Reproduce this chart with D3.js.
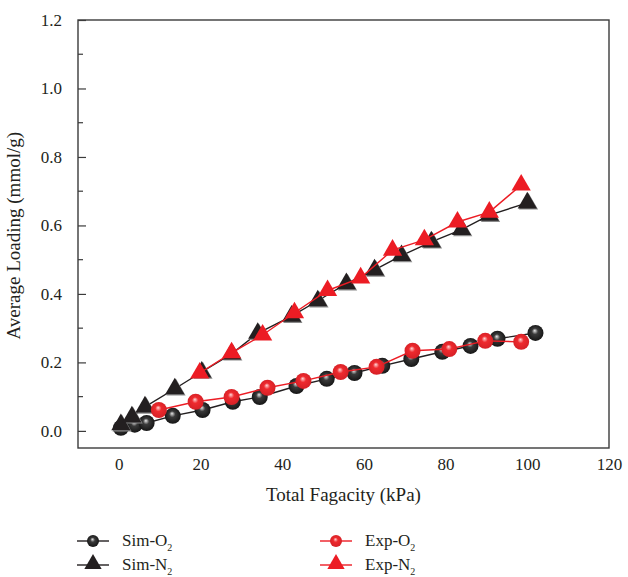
<!DOCTYPE html>
<html>
<head>
<meta charset="utf-8">
<script src="https://cdn.jsdelivr.net/npm/d3@7"></script>
<style>
  body { margin: 0; background: #fff; }
  svg text { font-family: "Liberation Serif", "DejaVu Serif", serif; fill: #231f20; }
</style>
</head>
<body>
<div id="chart"></div>
<script>
// fagacity (kPa) and loading (mmol/g)
var simO2X = [0.5, 3.9, 6.8, 13.2, 20.5, 27.9, 34.5, 43.5, 50.9, 57.7, 64.5, 71.6, 79.2, 86.1, 92.7, 102];
var simO2Y = [0.009, 0.018, 0.023, 0.044, 0.061, 0.085, 0.099, 0.131, 0.152, 0.169, 0.190, 0.210, 0.231, 0.248, 0.269, 0.286];
var expO2X = [9.8, 18.8, 27.6, 36.4, 45.2, 54.3, 63.1, 71.9, 80.9, 89.7, 98.5];
var expO2Y = [0.061, 0.085, 0.099, 0.126, 0.146, 0.172, 0.187, 0.234, 0.239, 0.263, 0.260];
var simN2X = [0.5, 3.2, 6.4, 13.7, 20.3, 27.6, 34.0, 42.3, 48.7, 55.7, 62.6, 69.2, 76.5, 83.9, 90.7, 100];
var simN2Y = [0.018, 0.041, 0.070, 0.123, 0.172, 0.225, 0.285, 0.335, 0.380, 0.430, 0.470, 0.512, 0.552, 0.588, 0.630, 0.666];
var expN2X = [19.8, 27.6, 35.2, 43.0, 51.1, 59.2, 67.0, 74.8, 82.9, 90.7, 98.5];
var expN2Y = [0.169, 0.228, 0.280, 0.345, 0.410, 0.447, 0.528, 0.558, 0.610, 0.639, 0.718];

var xTicks = [0, 20, 40, 60, 80, 100, 120];
var yTicks = [0.0, 0.2, 0.4, 0.6, 0.8, 1.0, 1.2];
var yMinor = [0.1, 0.3, 0.5, 0.7, 0.9, 1.1];

var W = 628, H = 577;
var margin = { top: 20, right: 19, bottom: 129, left: 78 };
var width = W - margin.left - margin.right;
var height = H - margin.top - margin.bottom;

var x = d3.scaleLinear().domain([-10, 120]).range([0, width]);
var y = d3.scaleLinear().domain([-0.05, 1.2]).range([height, 0]);

var svg = d3.select('#chart').append('svg')
  .attr('width', W).attr('height', H);

var defs = svg.append('defs');
function ballGrad(id, c0, c1, c2) {
  var g = defs.append('radialGradient').attr('id', id)
    .attr('cx', '50%').attr('cy', '50%').attr('r', '55%')
    .attr('fx', '45%').attr('fy', '35%');
  g.append('stop').attr('offset', '0%').attr('stop-color', c0);
  g.append('stop').attr('offset', '35%').attr('stop-color', c1);
  g.append('stop').attr('offset', '100%').attr('stop-color', c2);
}
ballGrad('gBlack', '#e8e8e8', '#3a3a3a', '#111');
ballGrad('gRed', '#ffd8d8', '#ee2a2e', '#d31f25');

var g = svg.append('g').attr('transform', 'translate(' + margin.left + ',' + margin.top + ')');

// frame
g.append('rect').attr('width', width).attr('height', height)
  .attr('fill', 'none').attr('stroke', '#3b3b3b').attr('stroke-width', 1.4);

// y axis, inward ticks
var yAxis = d3.axisLeft(y).tickValues(yTicks).tickFormat(d3.format('.1f')).tickSizeInner(-8).tickSizeOuter(0).tickPadding(16);
var ya = g.append('g').call(yAxis);
ya.select('.domain').remove();
ya.selectAll('line').attr('stroke', '#3b3b3b').attr('stroke-width', 1.2);
ya.selectAll('text').style('font-size', '17px');
g.append('g').selectAll('line').data(yMinor).join('line')
  .attr('x1', 0).attr('x2', 5).attr('y1', function(d) { return y(d); }).attr('y2', function(d) { return y(d); })
  .attr('stroke', '#3b3b3b').attr('stroke-width', 1.2);

// x axis, labels only
var xAxis = d3.axisBottom(x).tickValues(xTicks).tickFormat(d3.format('d')).tickSize(0).tickPadding(10);
var xa = g.append('g').attr('transform', 'translate(0,' + height + ')').call(xAxis);
xa.select('.domain').remove();
xa.selectAll('text').style('font-size', '17px');

g.append('text').attr('x', x(55)).attr('y', height + 53)
  .attr('text-anchor', 'middle').style('font-size', '19px').text('Total Fagacity (kPa)');
g.append('text').attr('transform', 'translate(' + (-58) + ',' + y(0.57) + ') rotate(-90)')
  .attr('text-anchor', 'middle').style('font-size', '19px').text('Average Loading (mmol/g)');

var tri = d3.symbol().type(d3.symbolTriangle);

function series(xs, ys, color, kind) {
  var pts = xs.map(function(v, i) { return [x(v), y(ys[i])]; });
  g.append('path').datum(pts).attr('d', d3.line())
    .attr('fill', 'none').attr('stroke', color === 'red' ? '#ec1c24' : color).attr('stroke-width', 1.4);
  if (kind === 'circle') {
    g.append('g').selectAll('circle').data(pts).join('circle')
      .attr('cx', function(d) { return d[0]; }).attr('cy', function(d) { return d[1]; })
      .attr('r', 8).attr('fill', color === 'red' ? 'url(#gRed)' : 'url(#gBlack)');
  } else {
    if (color !== 'red') {
      g.append('g').selectAll('path').data(pts).join('path')
        .attr('d', tri.size(160)).attr('fill', '#8a8a8a')
        .attr('transform', function(d) { return 'translate(' + (d[0] + 1.2) + ',' + (d[1] + 1.2) + ')'; });
    }
    g.append('g').selectAll('path').data(pts).join('path')
      .attr('d', tri.size(160)).attr('fill', color === 'red' ? '#ec1c24' : '#231f20')
      .attr('transform', function(d) { return 'translate(' + d[0] + ',' + d[1] + ')'; });
  }
}

series(simO2X, simO2Y, '#231f20', 'circle');
series(simN2X, simN2Y, '#231f20', 'tri');
series(expO2X, expO2Y, 'red', 'circle');
series(expN2X, expN2Y, 'red', 'tri');

// legend
var legend = [
  { name: 'Sim-O', col: '#231f20', kind: 'circle', lx: 77, ly: 541 },
  { name: 'Sim-N', col: '#231f20', kind: 'tri', lx: 77, ly: 565 },
  { name: 'Exp-O', col: 'red', kind: 'circle', lx: 320, ly: 541 },
  { name: 'Exp-N', col: 'red', kind: 'tri', lx: 320, ly: 565 }
];
var lg = svg.append('g');
legend.forEach(function(d) {
  var stroke = d.col === 'red' ? '#ec1c24' : '#231f20';
  lg.append('line').attr('x1', d.lx).attr('x2', d.lx + 32).attr('y1', d.ly).attr('y2', d.ly)
    .attr('stroke', stroke).attr('stroke-width', 1.4);
  if (d.kind === 'circle') {
    lg.append('circle').attr('cx', d.lx + 16).attr('cy', d.ly).attr('r', 6)
      .attr('fill', d.col === 'red' ? 'url(#gRed)' : 'url(#gBlack)');
  } else {
    lg.append('path').attr('d', tri.size(130)).attr('fill', stroke)
      .attr('transform', 'translate(' + (d.lx + 16) + ',' + (d.ly - 1) + ')');
  }
  var t = lg.append('text').attr('x', d.lx + 45).attr('y', d.ly + 5).style('font-size', '17px');
  t.append('tspan').text(d.name);
  t.append('tspan').attr('dy', 5).style('font-size', '10px').text('2');
});
</script>
</body>
</html>
